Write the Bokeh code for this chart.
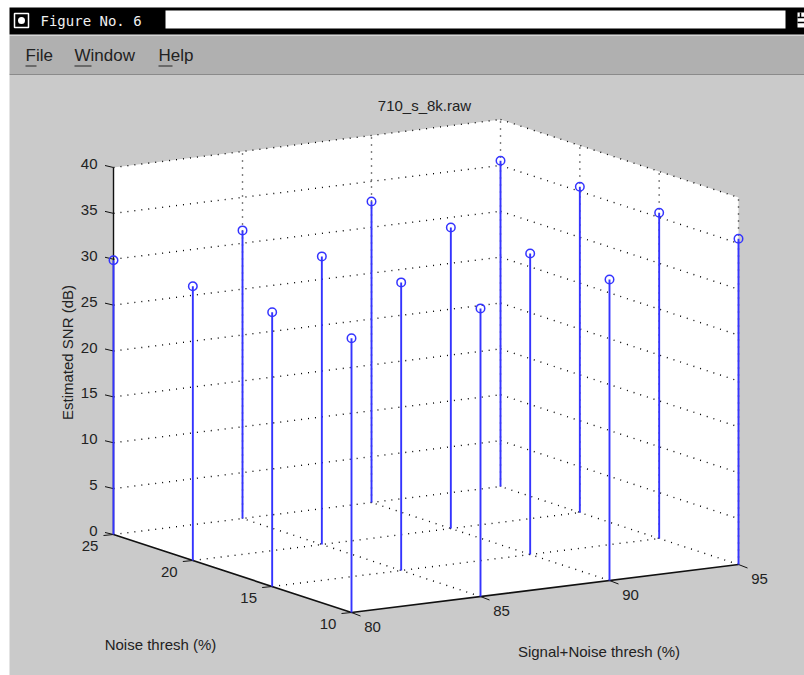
from bokeh.plotting import figure
from bokeh.embed import file_html
from bokeh.resources import INLINE
from bokeh.core.properties import value
import math

# ---- data ----
signal_thresh = [80, 80, 80, 80, 85, 85, 85, 85, 90, 90, 90, 90, 95, 95, 95, 95]
noise_thresh  = [25, 20, 15, 10, 25, 20, 15, 10, 25, 20, 15, 10, 25, 20, 15, 10]
snr_db        = [29.9, 29.9, 29.9, 29.9, 31.4, 31.4, 31.4, 31.4,
                 32.8, 32.8, 32.8, 32.8, 35.5, 35.5, 35.5, 35.5]
signal_ticks = [80, 85, 90, 95]
noise_ticks  = [10, 15, 20, 25]
snr_ticks    = [0, 5, 10, 15, 20, 25, 30, 35, 40]
title_text = "710_s_8k.raw"
xlabel_text = "Signal+Noise thresh (%)"
ylabel_text = "Noise thresh (%)"
zlabel_text = "Estimated SNR (dB)"
window_title = "Figure No. 6"
menu_items = ["File", "Window", "Help"]

# ---- projection of the 3-D axes onto the page ----
ORG_X, ORG_Y = 351.0, 612.0
S_DX, S_DY = 129.0 / 5, -16.0 / 5
N_DX, N_DY = -79.33 / 5, -26.0 / 5
Z_DY = -9.175


def proj(s, n, z=0.0):
    return (ORG_X + (s - 80) * S_DX + (n - 10) * N_DX,
            ORG_Y + (s - 80) * S_DY + (n - 10) * N_DY + z * Z_DY)


FONT = value("Liberation Sans")
TXT = "#222222"
BLUE = "#3434ff"

p = figure(width=804, height=675, x_range=(0, 804), y_range=(675, 0),
           toolbar_location=None, output_backend="svg", min_border=0,
           background_fill_color="white", border_fill_color="white",
           outline_line_color=None)
p.axis.visible = False
p.grid.visible = False

# window chrome
p.quad(left=[9], right=[804], top=[74], bottom=[675], fill_color="#cacaca", line_color=None)
p.quad(left=[9], right=[804], top=[35], bottom=[73], fill_color="#b0b0b0", line_color=None)
p.quad(left=[9], right=[804], top=[73], bottom=[74.5], fill_color="#8a8a8a", line_color=None)
p.quad(left=[9], right=[804], top=[34], bottom=[35], fill_color="#d8d8d8", line_color=None)
p.quad(left=[9], right=[804], top=[7], bottom=[34], fill_color="black", line_color=None)
p.quad(left=[165], right=[785], top=[10], bottom=[28], fill_color="white", line_color=None)
p.quad(left=[14], right=[28], top=[13], bottom=[27], fill_color="black", line_color="white", line_width=1.5)
p.scatter([21], [20], size=7, marker="circle", fill_color="white", line_color=None)
p.quad(left=[797], right=[804], top=[12], bottom=[27], fill_color="white", line_color=None)
p.segment([797, 797], [17, 22], [804, 804], [17, 22], line_color="black", line_width=1.5)
p.segment([800], [12], [800], [17], line_color="black", line_width=1.5)
p.text([40], [20.5], text=[window_title], text_font=value("DejaVu Sans Mono"),
       text_font_size="14px", text_color="#f0f0f0", text_baseline="middle")
p.text([25, 74, 158], [55, 55, 55], text=menu_items, text_font=FONT, text_font_size="17px",
       text_color=TXT, text_baseline="middle")
p.segment([25, 74, 158], [65.5] * 3, [36, 91, 172], [65.5] * 3, line_color=TXT, line_width=1)

# white faces of the box
corners = [proj(80, 25, 40), proj(95, 25, 40), proj(95, 10, 40), proj(95, 10, 0),
           proj(80, 10, 0), proj(80, 25, 0)]
p.patch([c[0] for c in corners], [c[1] for c in corners], fill_color="white", line_color=None)


def dotted(a, b):
    p.line([a[0], b[0]], [a[1], b[1]], line_color="#000000", line_width=1.4,
           line_dash="1 6", line_cap="butt")


# grid: horizontal rings on the two back walls
for z in snr_ticks[1:]:
    dotted(proj(80, 25, z), proj(95, 25, z))
    dotted(proj(95, 25, z), proj(95, 10, z))
# grid: verticals on the two back walls
for s in signal_ticks[1:]:
    dotted(proj(s, 25, 0), proj(s, 25, 40))
for n in noise_ticks[:-1]:
    dotted(proj(95, n, 0), proj(95, n, 40))
# grid: floor
for s in signal_ticks[1:]:
    dotted(proj(s, 10, 0), proj(s, 25, 0))
for n in noise_ticks[1:]:
    dotted(proj(80, n, 0), proj(95, n, 0))

# axes
AX = "#111111"
a0, a1 = proj(80, 25, 0), proj(80, 25, 40)
p.line([a0[0], a1[0]], [a0[1], a1[1]], line_color=AX, line_width=1.4)
b0, b1, b2 = proj(80, 25, 0), proj(80, 10, 0), proj(95, 10, 0)
p.line([b0[0], b1[0], b2[0]], [b0[1], b1[1], b2[1]], line_color=AX, line_width=1.6)

# ticks and tick labels
for z in snr_ticks:
    x, y = proj(80, 25, z)
    p.line([x - 8.5, x], [y - 2, y], line_color=AX, line_width=1)
    p.text([x - 16], [y - 3.5], text=[str(z)], text_font=FONT, text_font_size="15px",
           text_color=TXT, text_align="right", text_baseline="middle")
for n in noise_ticks:
    x, y = proj(80, n, 0)
    p.line([x - 10, x], [y + 1, y], line_color=AX, line_width=1)
    p.text([x - 23.5], [y + 11.5], text=[str(n)], text_font=FONT, text_font_size="15px",
           text_color=TXT, text_align="center", text_baseline="middle")
for s in signal_ticks:
    x, y = proj(s, 10, 0)
    p.line([x, x + 9], [y, y + 3.5], line_color=AX, line_width=1)
    p.text([x + 21], [y + 14.5], text=[str(s)], text_font=FONT, text_font_size="15px",
           text_color=TXT, text_align="center", text_baseline="middle")

# stems and markers
tops = [proj(s, n, z) for s, n, z in zip(signal_thresh, noise_thresh, snr_db)]
bases = [proj(s, n, 0) for s, n in zip(signal_thresh, noise_thresh)]
p.segment([b[0] for b in bases], [b[1] for b in bases],
          [t[0] for t in tops], [t[1] for t in tops], line_color=BLUE, line_width=1.9)
p.scatter([t[0] for t in tops], [t[1] for t in tops], marker="circle", size=8.5,
          fill_color=None, line_color=BLUE, line_width=1.5)

# titles
p.text([424], [105], text=[title_text], text_font=FONT, text_font_size="15px",
       text_color=TXT, text_align="center", text_baseline="middle")
p.text([160], [644], text=[ylabel_text], text_font=FONT, text_font_size="15px",
       text_color=TXT, text_align="center", text_baseline="middle")
p.text([598.5], [651], text=[xlabel_text], text_font=FONT, text_font_size="15px",
       text_color=TXT, text_align="center", text_baseline="middle")
p.text([67], [352], text=[zlabel_text], angle=[math.pi / 2], text_font=FONT, text_font_size="15px",
       text_color=TXT, text_align="center", text_baseline="middle")

open("out.html", "w").write(file_html(p, INLINE))
